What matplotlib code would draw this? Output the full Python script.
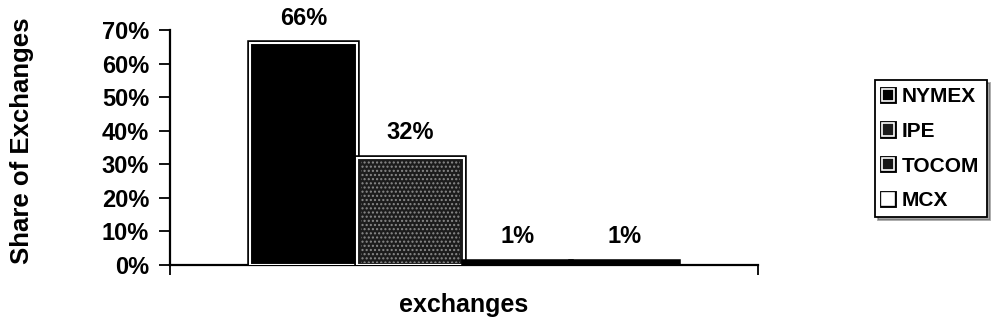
import matplotlib
matplotlib.use("Agg")
import matplotlib.pyplot as plt
import matplotlib.ticker as mticker
import matplotlib.patheffects as pe
from matplotlib.patches import Patch

# Data
exchanges = ["NYMEX", "IPE", "TOCOM", "MCX"]
shares = [0.66, 0.32, 0.01, 0.01]
fills = ["#000000", "#1c1c1c", "#151515", "#ffffff"]
speckle = [None, "#8a8a8a", None, None]
y_ticks = [0.0, 0.1, 0.2, 0.3, 0.4, 0.5, 0.6, 0.7]

plt.rcParams["font.family"] = ["Liberation Sans", "DejaVu Sans"]
plt.rcParams["font.weight"] = "bold"

fig = plt.figure(figsize=(9.96, 3.32), dpi=100)
fig.patch.set_facecolor("white")
ax = fig.add_axes([0.1707, 0.2018, 0.761 - 0.1707, 0.9096 - 0.2018])

# borda preta externa + filete branco interno, como no original
bar_fx = [pe.Stroke(linewidth=4, foreground="black"),
          pe.Stroke(linewidth=1.5, foreground="white")]
thin_fx = [pe.Stroke(linewidth=4, foreground="black"), pe.Normal()]

for i, (name, val) in enumerate(zip(exchanges, shares)):
    small = val < 0.05
    b = ax.bar(i, val, width=1.0, color="black" if small else fills[i],
               edgecolor="black" if small else "white",
               linewidth=1.5, zorder=3)
    for p in b:
        p.set_path_effects(thin_fx if small else bar_fx)
    if speckle[i]:
        ax.bar(i, val * 0.96, width=0.92, bottom=val * 0.02, facecolor="none",
               edgecolor=speckle[i], linewidth=0, hatch="....", zorder=4)
    ax.text(i, val + 0.04, f"{val:.0%}", ha="center", va="bottom",
            fontsize=17, fontweight="bold", color="black", zorder=5)

ax.set_xlim(-1.25, 4.25)
ax.set_ylim(0, 0.7)
ax.set_yticks(y_ticks)
ax.yaxis.set_major_formatter(mticker.FuncFormatter(lambda v, _: f"{v:.0%}"))
ax.set_xticks([-1.25, 4.25])
ax.set_xticklabels([])

ax.tick_params(axis="y", direction="out", length=8, width=1.3, labelsize=17, pad=7)
ax.tick_params(axis="x", direction="out", length=7, width=1.3)
for lab in ax.get_yticklabels():
    lab.set_fontweight("bold")

ax.spines[["top", "right"]].set_visible(False)
ax.spines[["left", "bottom"]].set_linewidth(1.6)
ax.spines[:].set_color("black")

ax.set_xlabel("exchanges", fontsize=18, fontweight="bold")
ax.xaxis.set_label_coords(0.5, -0.12)
ax.set_ylabel("Share of Exchanges", fontsize=18.5, fontweight="bold")
ax.yaxis.set_label_coords(-0.232, 0.528)

handles = []
for i, name in enumerate(exchanges):
    h = Patch(facecolor=fills[i], edgecolor="white", linewidth=1.0, label=name)
    h.set_path_effects([pe.Stroke(linewidth=3.5, foreground="black"),
                        pe.Stroke(linewidth=1.2, foreground="white")])
    handles.append(h)
leg = fig.legend(handles=handles, loc="upper left",
                 bbox_to_anchor=(875 / 996, 1 - 80 / 332),
                 fontsize=15, frameon=True, fancybox=False, shadow=True,
                 handlelength=0.55, handleheight=0.55, handletextpad=0.4,
                 labelspacing=0.75, borderpad=0.35, borderaxespad=0)
leg.get_frame().set_edgecolor("black")
leg.get_frame().set_linewidth(1.3)
for t in leg.get_texts():
    t.set_fontweight("bold")

fig.savefig("out.png", dpi=100, facecolor="white")
